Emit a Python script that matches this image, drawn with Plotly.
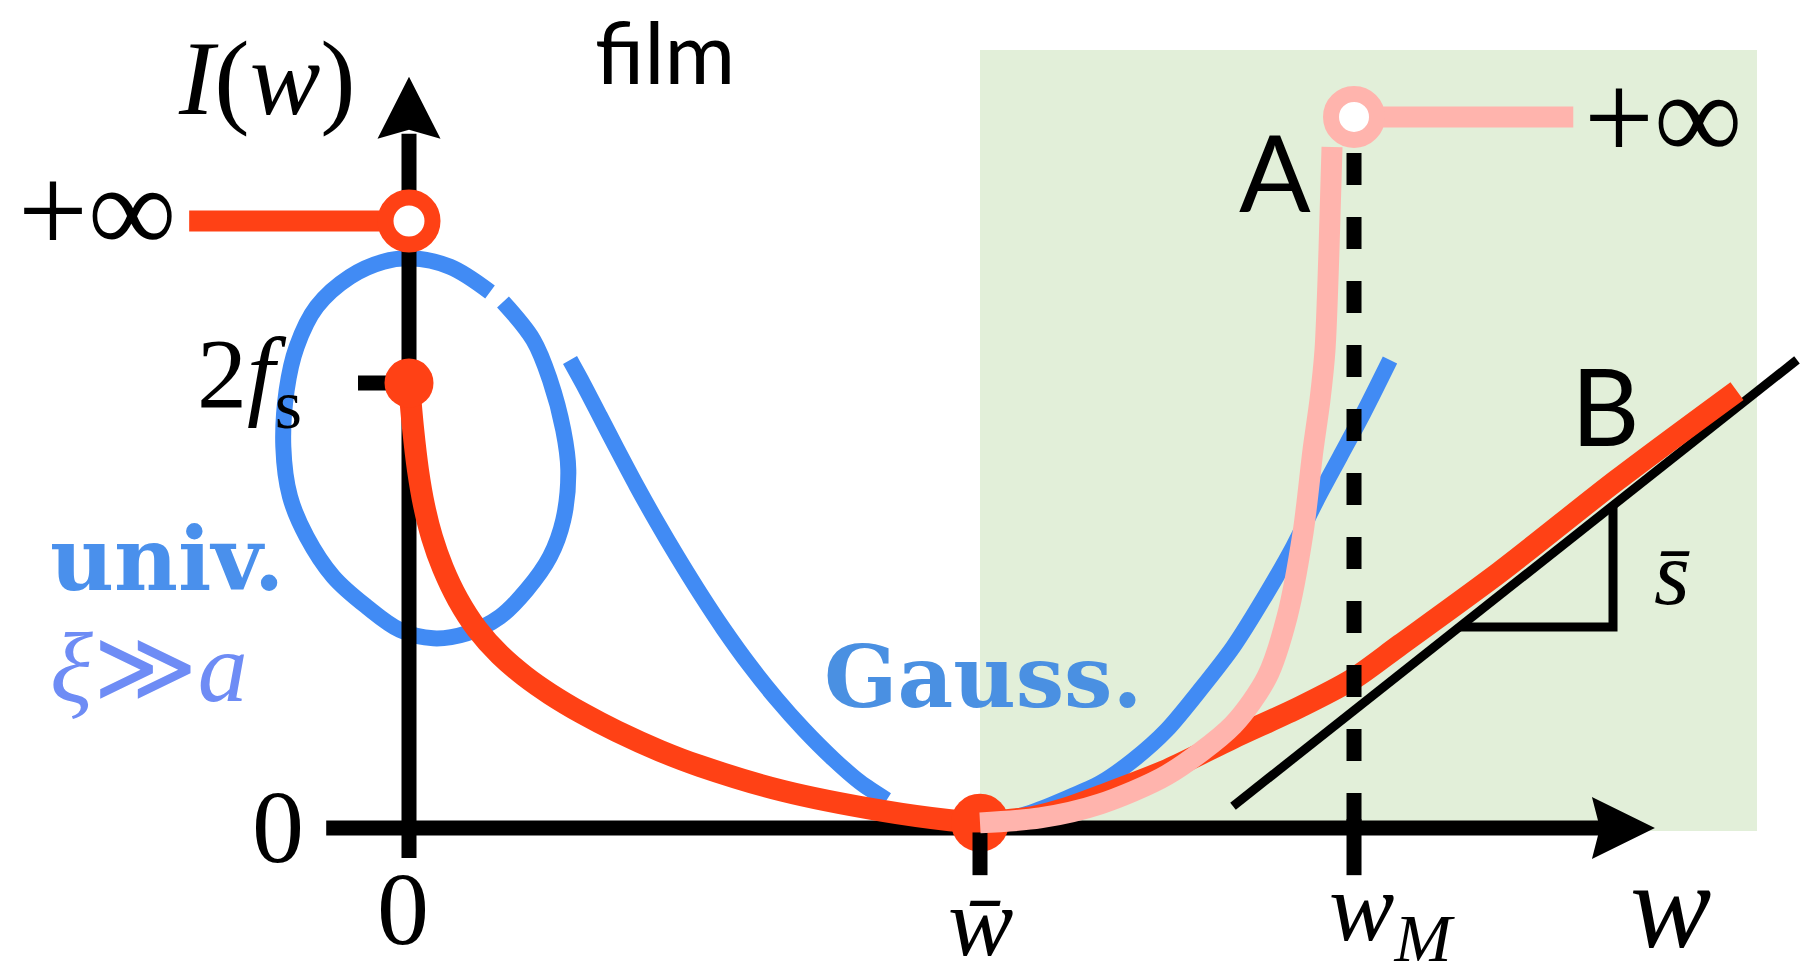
import plotly.graph_objects as go

# ---------------- data (w: horizontal, I: vertical) ----------------
W_BAR = 1.0
W_M = 1.655
I_2FS = 1.0
I_INF_LEFT = 1.364
I_INF_RIGHT = 1.598
W_INF_LEFT_START = -0.385
W_INF_RIGHT_END = 2.039

# film branch (red): from 2f_s at w=0 down to the minimum at w_bar
red_left_w = [0.0, 0.007, 0.0158, 0.0263, 0.0403, 0.0595, 0.0858, 0.1191, 0.1594, 0.2032,
              0.2469, 0.3047, 0.3643, 0.4396, 0.5096, 0.655, 0.8301, 0.9475, 1.0]
red_left_I = [1.0, 0.8989, 0.8034, 0.7252, 0.6533, 0.584, 0.5133, 0.447, 0.389, 0.3407,
              0.3013, 0.2569, 0.2171, 0.1735, 0.1393, 0.0834, 0.0384, 0.0173, 0.0115]

# case B (red) to the right of w_bar
red_b_w = [1.0, 1.0928, 1.1524, 1.2102, 1.3275, 1.4431, 1.5604, 1.6532, 1.7356, 1.9107, 2.1156, 2.3257]
red_b_I = [0.0115, 0.0247, 0.0449, 0.0719, 0.1303, 0.2022, 0.2719, 0.3348, 0.4112, 0.5753, 0.782, 0.982]

# case A (pink) diverging at w_M
pink_a_w = [1.0, 1.1051, 1.2102, 1.3275, 1.4431, 1.5026, 1.5377, 1.5657, 1.5832, 1.5954, 1.6042, 1.6112, 1.6165]
pink_a_I = [0.0115, 0.0225, 0.0539, 0.1191, 0.2315, 0.3393, 0.4742, 0.6629, 0.8494, 0.9618, 1.0742, 1.2989, 1.5303]

# chalk sketch (blue): loop near the origin, descending branch, Gaussian branch
loop_w = [0.1646, 0.2177, 0.2469, 0.2702, 0.279, 0.2702, 0.2469, 0.2061, 0.1594, 0.1011,
          0.0426, -0.0158, -0.0741, -0.1326, -0.1792, -0.2084, -0.2201, -0.2142, -0.1967,
          -0.1616, -0.1033, -0.045, 0.0018, 0.0718, 0.1419]
loop_I = [1.182, 1.0966, 1.0067, 0.8944, 0.8045, 0.6921, 0.6097, 0.5348, 0.4748, 0.4375,
          0.4263, 0.4449, 0.4973, 0.5647, 0.6546, 0.7445, 0.8569, 0.9843, 1.0816,
          1.1715, 1.2389, 1.2726, 1.2802, 1.2613, 1.2045]
desc_w = [0.282, 0.3053, 0.3345, 0.3637, 0.3988, 0.4338, 0.4688, 0.5096, 0.5504, 0.5972,
          0.644, 0.6906, 0.7431, 0.7898, 0.8366]
desc_I = [1.0517, 0.9973, 0.9252, 0.853, 0.7683, 0.6881, 0.6119, 0.5274, 0.4481, 0.3647,
          0.2897, 0.2225, 0.1551, 0.1029, 0.0629]
gauss_w = [1.0438, 1.0933, 1.1518, 1.2102, 1.2685, 1.327, 1.3853, 1.4436, 1.5021, 1.5487,
           1.5897, 1.6305, 1.6713, 1.718]
gauss_I = [0.018, 0.0366, 0.0667, 0.1004, 0.1528, 0.2202, 0.3101, 0.4074, 0.5274, 0.6321,
           0.7371, 0.8344, 0.9319, 1.0517]

# asymptotic slope s_bar: tangent line and slope triangle
tangent_w = [1.4431, 2.4308]
tangent_I = [0.049, 1.052]
tri_w = [1.8397, 2.1086, 2.1086]
tri_I = [0.4517, 0.4517, 0.7248]

# axes extents
X_AXIS_W = [-0.145, 2.09]
Y_AXIS_I = [-0.0674, 1.56]
X_TIP, Y_TIP = 2.182, 1.688
TICK_LOW = -0.106
TICK_2FS_W = -0.0893
W_M_DASH_TOP = 1.517

# ---------------- geometry helpers ----------------
X0, XS = 409.0, 571.0   # pixel of w=0, pixels per unit w
Y0, YS = 828.0, 445.0   # pixel of I=0, pixels per unit I
W, H = 1805, 976
xr = [-X0 / XS, (W - X0) / XS]
yr = [(Y0 - H) / YS, Y0 / YS]


def P(xp, yp):
    return (xp - X0) / XS, (Y0 - yp) / YS


RED = "#FF4115"
PINK = "#FFB4AD"
BLUE = "#418BF4"
GREEN = "#E2EFD9"
BLACK = "#000000"

fig = go.Figure()


def line(xs, ys, color, width, dash=None, shape="linear", opacity=1.0, smoothing=0.8):
    fig.add_trace(go.Scatter(x=xs, y=ys, mode="lines", hoverinfo="skip", opacity=opacity,
                             line=dict(color=color, width=width, dash=dash, shape=shape,
                                       smoothing=smoothing)))


# blue chalk sketch (lowest)
line(loop_w, loop_I, BLUE, 16, shape="spline", smoothing=1.0)
line(desc_w, desc_I, BLUE, 16, shape="spline")
line(gauss_w, gauss_I, BLUE, 16, shape="spline")

# axes
line(X_AXIS_W, [0, 0], BLACK, 15)
line([0, 0], Y_AXIS_I, BLACK, 15)
line([TICK_2FS_W, 0], [I_2FS, I_2FS], BLACK, 15)
hw_y = 31.5 / XS
hw_x = 31.0 / YS
fig.add_trace(go.Scatter(x=[0, hw_y, 0, -hw_y, 0],
                         y=[Y_TIP, Y_TIP - 62 / YS, Y_TIP - 53 / YS, Y_TIP - 62 / YS, Y_TIP],
                         mode="lines", fill="toself", fillcolor=BLACK, line=dict(width=0, color=BLACK),
                         hoverinfo="skip"))
fig.add_trace(go.Scatter(x=[X_TIP, X_TIP - 63 / XS, X_TIP - 55 / XS, X_TIP - 63 / XS, X_TIP],
                         y=[0, hw_x, 0, -hw_x, 0],
                         mode="lines", fill="toself", fillcolor=BLACK, line=dict(width=0, color=BLACK),
                         hoverinfo="skip"))

# tangent + slope triangle
line(tangent_w, tangent_I, BLACK, 9)
line(tri_w, tri_I, BLACK, 9)

# red curves
line([W_INF_LEFT_START, 0], [I_INF_LEFT, I_INF_LEFT], RED, 21)
line(red_left_w, red_left_I, RED, 22, shape="spline")
line(red_b_w, red_b_I, RED, 22, shape="spline")
fig.add_trace(go.Scatter(x=[0], y=[I_2FS], mode="markers", hoverinfo="skip",
                         marker=dict(size=49, color=RED, line=dict(width=0))))
fig.add_trace(go.Scatter(x=[W_BAR], y=[0.012], mode="markers", hoverinfo="skip",
                         marker=dict(size=58, color=RED, line=dict(width=0))))

# dashed w_M line and ticks
line([W_M, W_M], [W_M_DASH_TOP, 0], BLACK, 15, dash="32px,32px")
line([W_M, W_M], [0.02, TICK_LOW], BLACK, 15)
line([W_BAR, W_BAR], [-0.01, TICK_LOW], BLACK, 15)

# pink curve A
line([W_M, W_INF_RIGHT_END], [I_INF_RIGHT, I_INF_RIGHT], PINK, 21)
line(pink_a_w, pink_a_I, PINK, 21, shape="spline")

# open circles (value +inf excluded)
fig.add_trace(go.Scatter(x=[W_M], y=[I_INF_RIGHT], mode="markers", hoverinfo="skip",
                         marker=dict(size=46, color="white", line=dict(width=16, color=PINK))))
fig.add_trace(go.Scatter(x=[0], y=[I_INF_LEFT], mode="markers", hoverinfo="skip",
                         marker=dict(size=47, color="white", line=dict(width=16, color=RED))))

# green region
x0r, y0r = P(980, 831)
x1r, y1r = P(1757, 50)
fig.add_shape(type="rect", xref="x", yref="y", x0=x0r, x1=x1r, y0=y0r, y1=y1r,
              fillcolor=GREEN, line=dict(width=0), layer="below")

MATH = "Liberation Serif"
SANS = "Lato"


def label(text, xp, yp, size, family=MATH, color=BLACK, weight=None, align="center",
          xanchor="center"):
    x, y = P(xp, yp)
    f = dict(family=family, size=size, color=color)
    if weight:
        f["weight"] = weight
    fig.add_annotation(x=x, y=y, xref="x", yref="y", text=text, showarrow=False,
                       xanchor=xanchor, yanchor="middle", font=f, align=align)


label("<i>I</i>(<i>w</i>)", 267, 78, 106)
label("film", 665, 50, 86, family=SANS)
label("+∞", 97, 210, 124)
label("+∞", 1663, 117, 124)
label("2<i>f</i><sub>s</sub>", 249, 380, 100)
label("0", 278, 826, 104)
label("0", 403, 908, 104)
label("<i>w\u0304</i>", 980, 922, 98)
label("<i>w</i><sub><i>M</i></sub>", 1392, 914, 98)
label("<i>w</i>", 1670, 905, 122)
label("A", 1275, 171, 106, family=SANS)
label("B", 1605, 405, 106, family=SANS)
label("<i>s\u0304</i>", 1672, 573, 92)
label("<span style='font-size:88px'>univ.</span><br>"
      "<span style='font-family:Liberation Serif;font-weight:normal;"
      "font-size:100px;color:#6E8CF5'><i>ξ</i>≫<i>a</i></span>",
      48, 615, 85, family="DejaVu Serif", color="#4A90EC", weight="bold",
      align="left", xanchor="left")
label("Gauss.", 983, 676, 86, family="DejaVu Serif", color="#4A90E2", weight="bold")

fig.update_layout(
    width=W, height=H, margin=dict(l=0, r=0, t=0, b=0),
    paper_bgcolor="white", plot_bgcolor="white", showlegend=False,
    xaxis=dict(range=xr, visible=False, fixedrange=True),
    yaxis=dict(range=yr, visible=False, fixedrange=True),
)

fig.write_html("out.html", config={"displayModeBar": False})
